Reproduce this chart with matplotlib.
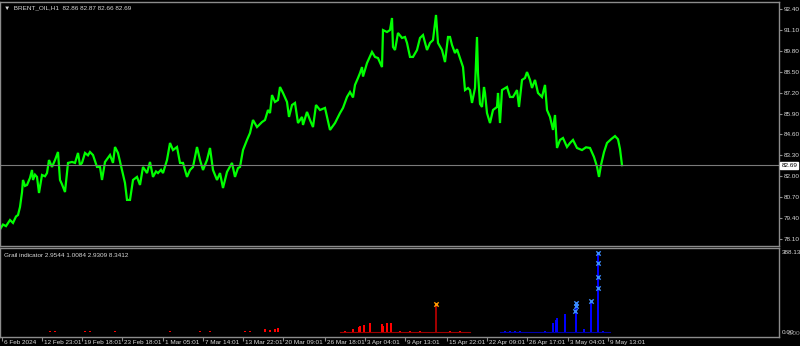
import matplotlib
matplotlib.use("Agg")
import matplotlib.pyplot as plt
from matplotlib.transforms import blended_transform_factory

# ---------------- data ----------------
bar_pos = [0, 3, 6, 10, 13, 16, 18, 20, 22, 23, 25, 27, 30, 32, 33, 35, 37, 39, 42, 45,
           47, 49, 52, 55, 58, 60, 62, 65, 68, 72, 75, 78, 80, 82, 85, 88, 90, 93, 97, 100,
           102, 105, 110, 113, 115, 118, 122, 125, 127, 130, 133, 137, 140, 143, 147, 150, 153, 156, 158, 161,
           163, 167, 170, 173, 177, 180, 183, 187, 190, 193, 197, 200, 203, 207, 210, 213, 217, 220, 223, 227,
           232, 235, 238, 240, 243, 247, 250, 253, 257, 262, 265, 268, 270, 272, 275, 278, 280, 283, 287, 289,
           292, 295, 298, 302, 303, 307, 310, 313, 316, 320, 325, 330, 335, 340, 343, 347, 350, 353, 355, 358,
           360, 362, 363, 367, 372, 375, 378, 382, 383, 387, 390, 392, 393, 395, 398, 402, 405, 407, 410, 413,
           417, 420, 423, 427, 430, 433, 436, 438, 442, 445, 448, 450, 452, 455, 457, 460, 463, 465, 468, 470,
           472, 473, 475, 477, 478, 480, 482, 484, 485, 487, 490, 493, 497, 498, 500, 502, 507, 510, 513, 517,
           519, 522, 525, 527, 530, 532, 535, 538, 542, 545, 547, 550, 553, 555, 557, 560, 563, 567, 570, 573,
           577, 582, 586, 590, 594, 597, 599, 601, 604, 607, 611, 615, 618, 620, 622]
close = [78.70, 79.00, 78.90, 79.28, 79.10, 79.50, 79.59, 80.09, 81.00, 81.77, 81.40, 81.46, 81.90, 82.39, 81.77, 82.10, 81.96, 80.96, 82.08, 82.00,
         82.20, 83.01, 82.58, 83.01, 83.51, 81.77, 81.50, 81.02, 82.83, 82.89, 82.83, 83.45, 82.70, 82.83, 83.45, 83.30, 83.51, 83.32, 82.58, 82.58,
         81.77, 82.89, 83.32, 82.83, 83.82, 83.45, 82.39, 81.58, 80.53, 80.53, 81.77, 81.96, 81.46, 82.58, 82.20, 82.89, 81.96, 82.30, 82.20, 82.40,
         82.20, 83.01, 84.07, 83.63, 83.82, 82.83, 82.83, 81.96, 82.39, 82.58, 83.82, 83.01, 82.39, 83.01, 83.76, 82.39, 81.77, 82.20, 81.27, 82.27,
         82.83, 81.96, 82.51, 82.58, 83.63, 84.26, 84.69, 85.50, 85.06, 85.37, 85.50, 86.12, 85.93, 87.05, 86.62, 86.74, 87.55, 87.18, 86.62, 85.69,
         86.43, 86.56, 85.31, 85.69, 85.19, 86.00, 85.50, 85.06, 86.43, 86.12, 86.25, 84.88, 85.31, 85.93, 86.25, 86.93, 87.24, 86.90, 87.68, 88.11,
         88.42, 88.79, 88.20, 89.04, 89.73, 89.42, 89.35, 88.79, 91.09, 90.97, 91.09, 91.84, 90.04, 89.85, 90.91, 90.60, 90.66, 90.29, 89.42, 89.42,
         89.85, 90.60, 90.78, 89.85, 90.29, 90.47, 92.03, 90.29, 89.85, 89.10, 90.66, 90.66, 90.16, 89.66, 89.90, 89.35, 88.79, 87.36, 87.49, 87.36,
         86.56, 86.87, 87.49, 90.66, 88.42, 86.50, 86.31, 87.55, 87.18, 85.93, 85.31, 86.12, 86.31, 87.18, 85.31, 87.36, 87.55, 86.93, 86.93, 87.36,
         86.31, 87.99, 88.11, 88.48, 87.99, 87.49, 87.99, 87.18, 86.93, 87.68, 86.12, 85.69, 84.88, 85.81, 83.76, 84.26, 84.38, 83.82, 84.07, 84.26,
         83.76, 83.63, 83.80, 83.76, 83.20, 82.60, 81.96, 82.70, 83.50, 84.07, 84.30, 84.50, 84.30, 83.70, 82.69]
last_price = 82.69

price_ticks = [92.40, 91.10, 89.80, 88.50, 87.20, 85.90, 84.60, 83.30, 82.00, 80.70, 79.40, 78.10]

time_tick_pos = [2, 42, 82, 122, 163, 203, 243, 283, 325, 365, 405, 447, 487, 527, 568, 608]
time_tick_labels = ["6 Feb 2024", "12 Feb 23:01", "19 Feb 18:01", "23 Feb 18:01", "1 Mar 05:01",
                    "7 Mar 14:01", "13 Mar 22:01", "20 Mar 09:01", "26 Mar 18:01", "3 Apr 04:01",
                    "9 Apr 13:01", "15 Apr 22:01", "22 Apr 09:01", "26 Apr 17:01", "3 May 04:01",
                    "9 May 13:01"]

red_pos = [50, 55, 85, 90, 115, 170, 200, 210, 245, 250, 265, 270, 275, 278, 345, 353, 359, 360,
           364, 370, 382, 383, 387, 391, 400, 410, 420, 450, 460]
red_val = [4, 4, 4, 4, 4, 4, 4, 4, 4, 4, 14, 9, 14, 19, 4, 14, 24, 28,
           33, 43, 38, 28, 43, 43, 4, 4, 4, 4, 4]
signal_red_pos = [436]
signal_red_val = [137]

blue_pos = [505, 510, 515, 520, 545, 553, 556, 557, 565, 576, 584, 591, 598, 603]
blue_val = [4, 4, 4, 4, 5, 43, 57, 66, 85, 142, 14, 151, 383, 5]

blue_mark_pos = [598, 598, 598, 598, 591, 576, 576, 575]
blue_mark_val = [383, 336, 265, 213, 151, 142, 128, 104]

# ---------------- figure ----------------
W, H = 800, 346
fig = plt.figure(figsize=(W / 100, H / 100), dpi=100, facecolor="black")
plt.rcParams["font.family"] = ["Liberation Sans", "DejaVu Sans"]
frame_col = "#8c8c8c"
text_col = "#d8d8d8"
fs = 4.6

ax1 = fig.add_axes([0.0, 100 / H, 779 / W, 244 / H], facecolor="black")
ax2 = fig.add_axes([0.0, 9 / H, 779 / W, 89 / H], facecolor="black")

for ax in (ax1, ax2):
    for s in ax.spines.values():
        s.set_color(frame_col)
        s.set_linewidth(1.0)
    ax.set_xlim(0, 779)

# main price chart
ax1.plot(bar_pos, close, color="#00ff00", lw=1.6, solid_joinstyle="miter")
ax1.axhline(last_price, color="#7a7a7a", lw=0.8)
ax1.set_ylim(77.665, 92.835)
ax1.yaxis.tick_right()
ax1.set_yticks(price_ticks)
ax1.set_yticklabels([f"{v:.2f}" for v in price_ticks])
ax1.tick_params(axis="y", colors=frame_col, labelcolor=text_col, labelsize=fs,
                length=2, width=0.8, pad=1.5)
ax1.set_xticks([])
ax1.text(1.003, (last_price - 77.665) / (92.835 - 77.665), f"{last_price:.2f}",
         transform=ax1.transAxes, fontsize=fs, color="black", va="center", ha="left",
         bbox=dict(boxstyle="square,pad=0.15", fc="white", ec="white"))
ax1.text(0.005, 0.975, "\u25BC  BRENT_OIL,H1  82.86 82.87 82.66 82.69", transform=ax1.transAxes,
         fontsize=fs, color=text_col, va="center", ha="left",
         family=["Liberation Sans", "DejaVu Sans"])

# indicator
ax2.bar(red_pos, red_val, width=1.6, color="#ff0000", linewidth=0)
ax2.bar(signal_red_pos, signal_red_val, width=1.6, color="#a00000", linewidth=0)
ax2.bar(blue_pos, blue_val, width=1.6, color="#0000ff", linewidth=0)
ax2.plot([340, 470], [1.5, 1.5], color="#a00000", lw=0.8)
ax2.plot([500, 610], [1.5, 1.5], color="#0000b0", lw=0.8)
ax2.scatter(signal_red_pos, signal_red_val, marker="x", s=10, color="#ff9900", linewidths=1.0, zorder=5)
ax2.scatter(blue_mark_pos, blue_mark_val, marker="x", s=10, color="#3a8cff", linewidths=1.0, zorder=5)
ax2.set_ylim(-24, 407)
ax2.yaxis.tick_right()
ax2.set_yticks([388.13, 0])
ax2.set_yticklabels(["388.13", "0.00"])
ax2.tick_params(axis="y", colors=frame_col, labelcolor=text_col, labelsize=fs,
                length=0, pad=2)
ax2.text(1.011, 0.04, "0.00055", transform=ax2.transAxes, fontsize=fs,
         color=text_col, va="center", ha="left", alpha=0.7)
ax2.text(0.005, 0.92, "Grail indicator 2.9544 1.0084 2.9309 8.3412", transform=ax2.transAxes,
         fontsize=fs, color=text_col, va="center", ha="left")

ax2.set_xticks(time_tick_pos)
ax2.set_xticklabels([])
ax2.tick_params(axis="x", colors=frame_col, length=3, width=0.8, direction="out")
tr = blended_transform_factory(ax2.transData, ax2.transAxes)
for p, lab in zip(time_tick_pos, time_tick_labels):
    ax2.text(p + 2, -0.035, lab, transform=tr, fontsize=fs, color=text_col,
             va="top", ha="left", clip_on=False)

fig.savefig("out.png", dpi=100, facecolor="black")
